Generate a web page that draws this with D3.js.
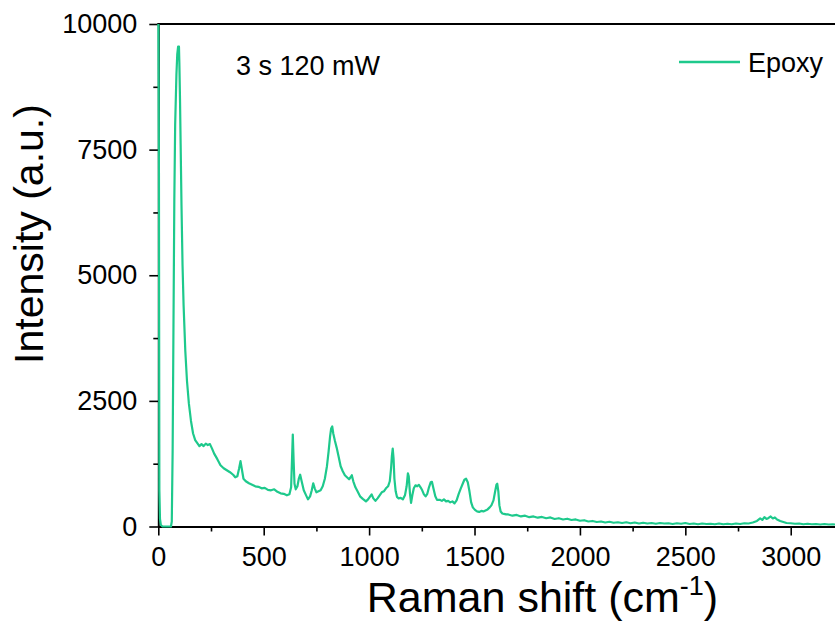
<!DOCTYPE html>
<html>
<head>
<meta charset="utf-8">
<script src="https://cdn.jsdelivr.net/npm/d3@7"></script>
<style>
  body { margin: 0; background: #fff; }
  svg text { font-family: "Liberation Sans", Arial, sans-serif; fill: #000; }
</style>
</head>
<body>
<div id="chart"></div>
<script>
// Raman spectrum (cm-1, a.u.)
var ramanShift = [0, 3, 5, 8, 12, 20, 40, 60, 64, 68, 72, 76, 80, 86, 90, 94, 96, 98, 100, 103, 106, 110, 115, 120, 128, 136, 145, 155, 165, 175, 185, 195, 205, 215, 225, 235, 245, 255, 265, 280, 295, 310, 325, 340, 355, 365, 375, 383, 390, 396, 404, 415, 430, 445, 460, 475, 490, 505, 520, 535, 550, 565, 580, 595, 610, 622, 630, 634, 638, 642, 646, 652, 660, 667, 673, 680, 690, 700, 710, 720, 728, 735, 742, 750, 760, 770, 780, 790, 800, 808, 815, 820, 825, 830, 838, 846, 855, 865, 875, 885, 895, 905, 912, 918, 925, 935, 945, 957, 970, 985, 995, 1005, 1012, 1020, 1030, 1040, 1050, 1060, 1070, 1080, 1090, 1098, 1104, 1108, 1112, 1116, 1120, 1126, 1132, 1140, 1150, 1160, 1170, 1178, 1184, 1188, 1194, 1199, 1205, 1212, 1220, 1228, 1236, 1244, 1252, 1260, 1268, 1276, 1284, 1292, 1298, 1305, 1314, 1322, 1335, 1345, 1355, 1365, 1375, 1385, 1395, 1405, 1415, 1425, 1435, 1445, 1452, 1460, 1468, 1476, 1484, 1492, 1502, 1512, 1522, 1532, 1542, 1552, 1562, 1572, 1580, 1590, 1598, 1604, 1608, 1613, 1618, 1624, 1632, 1640, 1650, 1660, 1680, 1700, 1720, 1740, 1760, 1780, 1800, 1820, 1840, 1860, 1880, 1900, 1920, 1940, 1960, 1980, 2000, 2020, 2040, 2060, 2080, 2100, 2120, 2140, 2160, 2180, 2200, 2220, 2240, 2260, 2280, 2300, 2320, 2340, 2360, 2380, 2400, 2420, 2440, 2460, 2480, 2500, 2520, 2540, 2560, 2580, 2600, 2620, 2640, 2660, 2680, 2700, 2720, 2740, 2760, 2780, 2800, 2820, 2840, 2855, 2865, 2875, 2885, 2895, 2905, 2915, 2925, 2935, 2950, 2965, 2980, 3000, 3020, 3040, 3060, 3080, 3100, 3120, 3140, 3160, 3180, 3200, 3210];
var intensity = [10500, 7100, 730, 150, 30, 0, 0, 0, 100, 1500, 4000, 6500, 8000, 9000, 9400, 9550, 9480, 9550, 9200, 8500, 7600, 6400, 5200, 4400, 3500, 2900, 2450, 2100, 1850, 1720, 1660, 1600, 1640, 1600, 1650, 1620, 1640, 1550, 1450, 1340, 1220, 1160, 1120, 1080, 1030, 980, 1000, 1150, 1300, 1150, 950, 900, 860, 830, 800, 790, 760, 770, 730, 720, 740, 690, 660, 650, 620, 640, 780, 1300, 1830, 1300, 850, 740, 800, 960, 1030, 900, 720, 630, 540, 600, 720, 860, 760, 680, 700, 720, 800, 950, 1200, 1500, 1800, 1950, 1990, 1850, 1700, 1570, 1400, 1200, 1100, 1020, 980, 940, 980, 1020, 900, 780, 700, 600, 550, 500, 540, 600, 640, 560, 510, 560, 620, 680, 700, 760, 800, 900, 1150, 1400, 1550, 1350, 950, 700, 590, 560, 570, 540, 620, 800, 1060, 1000, 650, 470, 620, 760, 820, 800, 830, 780, 720, 640, 600, 650, 780, 880, 890, 760, 600, 530, 530, 510, 540, 500, 510, 480, 500, 460, 520, 650, 760, 860, 930, 950, 880, 700, 480, 380, 330, 300, 290, 310, 300, 320, 340, 380, 420, 520, 700, 830, 850, 700, 420, 300, 260, 250, 240, 240, 215, 230, 200, 215, 185, 200, 175, 190, 165, 180, 150, 165, 140, 155, 130, 140, 115, 125, 100, 110, 90, 100, 80, 95, 75, 85, 70, 85, 65, 80, 60, 75, 60, 70, 55, 70, 60, 65, 50, 65, 55, 70, 50, 60, 45, 60, 50, 55, 45, 60, 45, 55, 45, 60, 50, 65, 60, 80, 110, 160, 130, 185, 150, 170, 200, 160, 180, 140, 110, 90, 70, 65, 55, 60, 45, 55, 45, 50, 40, 50, 40, 45, 40];

var seriesName = "Epoxy";
var annotation = "3 s 120 mW";
var xMajorTicks = [0, 500, 1000, 1500, 2000, 2500, 3000];
var xMinorTicks = [250, 750, 1250, 1750, 2250, 2750];
var yMajorTicks = [0, 2500, 5000, 7500, 10000];
var yMinorTicks = [1250, 3750, 6250, 8750];

var width = 835, height = 626;
var plotLeft = 158.3, plotRight = 835, plotTop = 24, plotBottom = 526.5;
var lineColor = "#1ec98c";

var data = ramanShift.map(function(d, i) { return {x: d, y: intensity[i]}; });

var svg = d3.select("#chart").append("svg")
  .attr("width", width)
  .attr("height", height);

var xScale = d3.scaleLinear().domain([0, 3210]).range([plotLeft, plotRight]);
var yScale = d3.scaleLinear().domain([0, 10000]).range([plotBottom, plotTop]);

// x axis
svg.append("g")
  .attr("transform", "translate(0," + plotBottom + ")")
  .call(d3.axisBottom(xScale).tickValues(xMajorTicks).tickFormat(d3.format("d"))
        .tickSize(9).tickPadding(11).tickSizeOuter(0));
svg.append("g")
  .attr("transform", "translate(0," + plotBottom + ")")
  .call(d3.axisBottom(xScale).tickValues(xMinorTicks).tickSize(5).tickFormat("").tickSizeOuter(0))
  .select(".domain").remove();

// y axis
svg.append("g")
  .attr("transform", "translate(" + plotLeft + ",0)")
  .call(d3.axisLeft(yScale).tickValues(yMajorTicks).tickFormat(d3.format("d"))
        .tickSize(9).tickPadding(12).tickSizeOuter(0));
svg.append("g")
  .attr("transform", "translate(" + plotLeft + ",0)")
  .call(d3.axisLeft(yScale).tickValues(yMinorTicks).tickSize(5).tickFormat("").tickSizeOuter(0))
  .select(".domain").remove();

svg.selectAll(".tick line").attr("stroke", "#000").attr("stroke-width", 1.6);
svg.selectAll(".domain").attr("stroke", "#000").attr("stroke-width", 2);
svg.selectAll(".tick text")
  .attr("font-family", "Liberation Sans, Arial, sans-serif")
  .attr("font-size", 27)
  .attr("fill", "#000");

// top frame line
svg.append("line")
  .attr("x1", plotLeft - 1).attr("x2", plotRight)
  .attr("y1", plotTop).attr("y2", plotTop)
  .attr("stroke", "#000").attr("stroke-width", 2);

// clip so the first spike is cut at the frame; the trace is drawn over the axes
svg.append("clipPath").attr("id", "plotClip")
  .append("rect")
  .attr("x", plotLeft - 2).attr("y", plotTop)
  .attr("width", plotRight - plotLeft + 2).attr("height", plotBottom - plotTop + 2);

svg.append("path")
  .datum(data)
  .attr("clip-path", "url(#plotClip)")
  .attr("fill", "none")
  .attr("stroke", lineColor)
  .attr("stroke-width", 2.2)
  .attr("stroke-linejoin", "round")
  .attr("d", d3.line().x(function(d) { return xScale(d.x); }).y(function(d) { return yScale(d.y); }));

// axis titles
svg.append("text")
  .attr("x", (363 + 722) / 2)
  .attr("y", 612)
  .attr("text-anchor", "middle")
  .attr("font-size", 43)
  .call(function(t) {
    t.append("tspan").text("Raman shift (cm");
    t.append("tspan").attr("font-size", 27).attr("dy", -17).text("-1");
    t.append("tspan").attr("dy", 17).text(")");
  });

svg.append("text")
  .attr("transform", "translate(43,234) rotate(-90)")
  .attr("text-anchor", "middle")
  .attr("font-size", 41)
  .text("Intensity (a.u.)");

// annotation
svg.append("text")
  .attr("x", 236).attr("y", 75)
  .attr("font-size", 27)
  .text(annotation);

// legend
svg.append("line")
  .attr("x1", 679).attr("x2", 740)
  .attr("y1", 62).attr("y2", 62)
  .attr("stroke", lineColor).attr("stroke-width", 2.5);
svg.append("text")
  .attr("x", 748).attr("y", 72)
  .attr("font-size", 27)
  .text(seriesName);
</script>
</body>
</html>
